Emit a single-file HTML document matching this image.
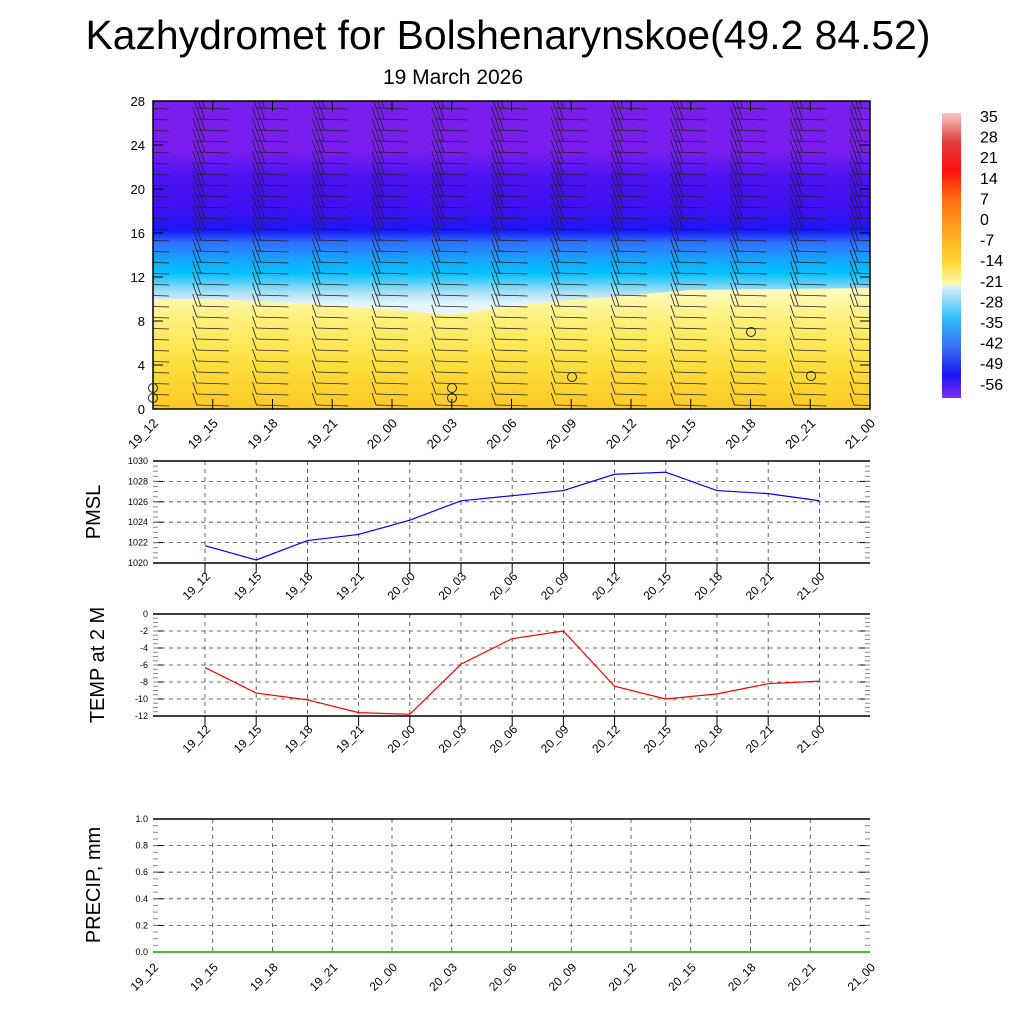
<!DOCTYPE html>
<html><head><meta charset="utf-8"><style>
body{margin:0;background:#fff}
svg{display:block;font-family:"Liberation Sans",sans-serif}
</style></head><body>
<svg id="s" width="1024" height="1024" viewBox="0 0 1024 1024">
<defs>
<clipPath id="pc"><rect x="153" y="101" width="717" height="308"/></clipPath>
<linearGradient id="sky" x1="0" y1="101" x2="0" y2="409" gradientUnits="userSpaceOnUse">
<stop offset="0" stop-color="#7a1ef0"/>
<stop offset="0.16" stop-color="#7a1ef0"/>
<stop offset="0.25" stop-color="#4a12f2"/>
<stop offset="0.36" stop-color="#3f10f4"/>
<stop offset="0.42" stop-color="#1818f8"/>
<stop offset="0.46" stop-color="#3070ff"/>
<stop offset="0.52" stop-color="#14a8ff"/>
<stop offset="0.56" stop-color="#05c0ff"/>
<stop offset="0.62" stop-color="#a8dff5"/>
<stop offset="0.66" stop-color="#e6f5fb"/>
<stop offset="1" stop-color="#e6f5fb"/>
</linearGradient>
<linearGradient id="yel" x1="0" y1="290" x2="0" y2="409" gradientUnits="userSpaceOnUse">
<stop offset="0" stop-color="#fffbc0"/>
<stop offset="0.25" stop-color="#fff07a"/>
<stop offset="0.6" stop-color="#fde040"/>
<stop offset="1" stop-color="#fcc823"/>
</linearGradient>
<linearGradient id="cb" x1="0" y1="113" x2="0" y2="398" gradientUnits="userSpaceOnUse">
<stop offset="0" stop-color="#f8c8c8"/>
<stop offset="0.1" stop-color="#e04040"/>
<stop offset="0.2" stop-color="#ff1010"/>
<stop offset="0.3" stop-color="#ff6a10"/>
<stop offset="0.4" stop-color="#ffa020"/>
<stop offset="0.52" stop-color="#ffd830"/>
<stop offset="0.6" stop-color="#fff8b0"/>
<stop offset="0.61" stop-color="#d8eef8"/>
<stop offset="0.72" stop-color="#30c0f8"/>
<stop offset="0.82" stop-color="#3a70f0"/>
<stop offset="0.92" stop-color="#1818f0"/>
<stop offset="1" stop-color="#8030f0"/>
</linearGradient>
</defs>
<text x="508" y="49" font-size="41" text-anchor="middle" textLength="845" lengthAdjust="spacingAndGlyphs">Kazhydromet for Bolshenarynskoe(49.2 84.52)</text>
<text x="453" y="84" font-size="21" text-anchor="middle">19 March 2026</text>
<rect x="153" y="101" width="717" height="308" fill="url(#sky)"/>
<path d="M153 299 L213 299 L272 302 L332 305 L392 310 L452 315 L512 306 L572 300 L632 295 L691 290 L870 288 L870 409 L153 409Z" fill="url(#yel)"/>
<rect x="942" y="113" width="19" height="285" fill="url(#cb)"/>
<g font-size="16" id="cbl"></g>
<g id="barbs" stroke="#222" stroke-width="0.8" fill="none" clip-path="url(#pc)"></g>
<rect x="153" y="101" width="717" height="308" fill="none" stroke="#000" stroke-width="1.5"/>
<text transform="translate(100 512) rotate(-90)" font-size="20" text-anchor="middle">PMSL</text>
<text transform="translate(104 665) rotate(-90)" font-size="20" text-anchor="middle">TEMP at 2 M</text>
<text transform="translate(100 885) rotate(-90)" font-size="20" text-anchor="middle">PRECIP, mm</text>
</svg>
<script>
var S='http://www.w3.org/2000/svg',sv=document.getElementById('s');
function el(t,a,p){var e=document.createElementNS(S,t);for(var k in a)e.setAttribute(k,a[k]);(p||sv).appendChild(e);return e;}
function tx(x,y,s,a,p){var e=el('text',a,p);e.setAttribute('x',x);e.setAttribute('y',y);e.textContent=s;return e;}
var labs=['19_12','19_15','19_18','19_21','20_00','20_03','20_06','20_09','20_12','20_15','20_18','20_21','21_00'];
var cv=[35,28,21,14,7,0,-7,-14,-21,-28,-35,-42,-49,-56];
var cbl=document.getElementById('cbl');
cv.forEach(function(v,i){tx(980,122+i*20.6,v,{'font-size':16},cbl);});
for(var v=0;v<=28;v+=4){var y=409-v*11;tx(145,y+5,v,{'font-size':13,'text-anchor':'end'});el('line',{x1:153,x2:163,y1:y,y2:y,stroke:'#000'});el('line',{x1:860,x2:870,y1:y,y2:y,stroke:'#000'});}
for(var i=0;i<13;i++){var x=153+i*59.75;el('line',{x1:x,x2:x,y1:101,y2:111,stroke:'#000'});el('line',{x1:x,x2:x,y1:399,y2:409,stroke:'#000'});
tx(x+6,424,labs[i],{'font-size':13,'text-anchor':'end',transform:'rotate(-45 '+(x+6)+' 424)'});}
var bg=document.getElementById('barbs');
for(var i=0;i<13;i++){var x=153+i*59.75;for(var r=0;r<28;r++){var y=405-r*11;if(y<104)continue;
var x0=x-16,x1=x+16;
el('line',{x1:x0,y1:y,x2:x1,y2:y+1},bg);
var nf=r<9?1:(r<16?2:3);for(var f=0;f<nf;f++){var fx=x0+f*4;el('line',{x1:fx,y1:y,x2:fx-4,y2:y-12},bg);}}}
[[153,388],[153,398],[452,388],[452,398],[572,377],[751,332],[811,376]].forEach(function(p){el('circle',{cx:p[0],cy:p[1],r:4.5,stroke:'#222',fill:'none'});});
function panel(y0,y1,vmin,vmax,step,dec,vals,col,fs){
 var h=y1-y0;
 for(var v=vmin;v<=vmax+1e-9;v+=step){var y=y1-(v-vmin)/(vmax-vmin)*h;
  if(v>vmin+1e-9&&v<vmax-1e-9)el('line',{x1:153,x2:870,y1:y,y2:y,stroke:'#444','stroke-dasharray':'4 4','stroke-width':0.8});
  tx(148,y+3,v.toFixed(dec),{'font-size':fs,'text-anchor':'end'});
  el('line',{x1:153,x2:163,y1:y,y2:y,stroke:'#000'});el('line',{x1:860,x2:870,y1:y,y2:y,stroke:'#000'});}
 for(var v=vmin;v<=vmax+1e-9;v+=step/4){var y=y1-(v-vmin)/(vmax-vmin)*h;el('line',{x1:153,x2:158,y1:y,y2:y,stroke:'#888'});el('line',{x1:865,x2:870,y1:y,y2:y,stroke:'#888'});}
 var pts=[];
 for(var i=0;i<13;i++){var x=205+i*51.2;
  el('line',{x1:x,x2:x,y1:y0,y2:y1,stroke:'#444','stroke-dasharray':'4 4','stroke-width':0.8});
  el('line',{x1:x,x2:x,y1:y1,y2:y1+10,stroke:'#000'});
  tx(x+6,y1+14,labs[i],{'font-size':12,'text-anchor':'end',transform:'rotate(-45 '+(x+6)+' '+(y1+14)+')'});
  pts.push(x+','+(y1-(vals[i]-vmin)/(vmax-vmin)*h));}
 el('polyline',{points:pts.join(' '),stroke:col,fill:'none','stroke-width':1.2});
 el('line',{x1:153,x2:870,y1:y0,y2:y0,stroke:'#000','stroke-width':1.5});el('line',{x1:153,x2:870,y1:y1,y2:y1,stroke:'#000','stroke-width':1.5});
}
panel(461,563,1020,1030,2,0,[1021.7,1020.3,1022.2,1022.8,1024.2,1026.1,1026.6,1027.1,1028.7,1028.9,1027.1,1026.8,1026.1],'#00f',9);
panel(614,716,-12,0,2,0,[-6.3,-9.3,-10.1,-11.6,-11.8,-5.9,-2.9,-2.0,-8.5,-10.0,-9.4,-8.2,-7.9],'#f00',9);
var y0=819,y1=952,h=133;
for(var v=0;v<=5;v++){var y=y1-v*h/5;
 if(v>0&&v<5)el('line',{x1:153,x2:870,y1:y,y2:y,stroke:'#444','stroke-dasharray':'4 4','stroke-width':0.8});
 tx(148,y+3,(v*0.2).toFixed(1),{'font-size':9,'text-anchor':'end'});
 el('line',{x1:153,x2:163,y1:y,y2:y,stroke:'#000'});el('line',{x1:860,x2:870,y1:y,y2:y,stroke:'#000'});}
for(var v=0;v<=20;v++){var y=y1-v*h/20;el('line',{x1:153,x2:158,y1:y,y2:y,stroke:'#888'});el('line',{x1:865,x2:870,y1:y,y2:y,stroke:'#888'});}
for(var i=0;i<13;i++){var x=153+i*59.75;
 if(i>0&&i<12)el('line',{x1:x,x2:x,y1:y0,y2:y1,stroke:'#444','stroke-dasharray':'4 4','stroke-width':0.8});
 tx(x+6,y1+16,labs[i],{'font-size':12,'text-anchor':'end',transform:'rotate(-45 '+(x+6)+' '+(y1+16)+')'});}
el('line',{x1:153,x2:870,y1:y0,y2:y0,stroke:'#000','stroke-width':1.5});
el('line',{x1:153,x2:870,y1:y1,y2:y1,stroke:'#0a0','stroke-width':1.5});
</script>
</body></html>
